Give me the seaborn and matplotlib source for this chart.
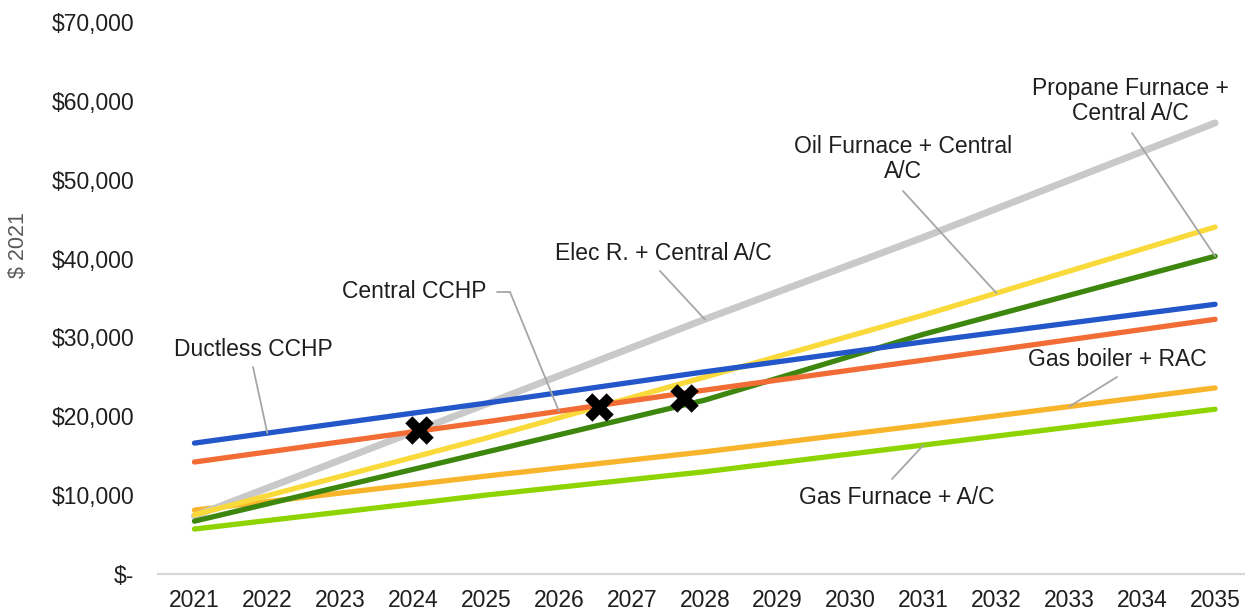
import matplotlib
matplotlib.use("Agg")
import matplotlib.pyplot as plt
import numpy as np
import pandas as pd
import seaborn as sns
from matplotlib.ticker import FuncFormatter

# values at these years (lines drawn straight between them)
READ_YEARS = [2021, 2025, 2028, 2031, 2035]
ductless_cchp = [16600, 21670, 25640, 29440, 34200]
central_cchp = [14200, 19300, 23320, 27120, 32300]
elec_r_central_ac = [7350, 21550, 32300, 42700, 57200]
oil_furnace_central_ac = [7500, 17240, 24970, 32830, 44000]
propane_furnace_central_ac = [6700, 15460, 22050, 30400, 40300]
gas_boiler_rac = [8100, 12420, 15500, 18880, 23600]
gas_furnace_ac = [5700, 10010, 12970, 16350, 20900]

# crossover markers
cross_years = [2024.08, 2026.55, 2027.72]
cross_costs = [18250, 21170, 22350]

YEAR_TICKS = list(range(2021, 2036))
Y_TICKS = [0, 10000, 20000, 30000, 40000, 50000, 60000, 70000]

SERIES = {
    "Gas boiler + RAC": gas_boiler_rac,
    "Gas Furnace + A/C": gas_furnace_ac,
    "Elec R. + Central A/C": elec_r_central_ac,
    "Oil Furnace + Central A/C": oil_furnace_central_ac,
    "Propane Furnace + Central A/C": propane_furnace_central_ac,
    "Ductless CCHP": ductless_cchp,
    "Central CCHP": central_cchp,
}
COLORS = {
    "Ductless CCHP": "#2356C9",
    "Central CCHP": "#F26C36",
    "Elec R. + Central A/C": "#C9C9C9",
    "Oil Furnace + Central A/C": "#F9DA3A",
    "Propane Furnace + Central A/C": "#3E870F",
    "Gas boiler + RAC": "#F8B42A",
    "Gas Furnace + A/C": "#8ED400",
}
WIDTHS = {"Elec R. + Central A/C": 5.0}
LEADER = "#A6A6A6"
TEXT = "#1f1f1f"
W, H = 1245, 613

sns.set_style("white")
plt.rcParams["font.family"] = ["Liberation Sans", "DejaVu Sans"]

df = pd.concat(
    [pd.DataFrame({"year": READ_YEARS, "cost": vals, "system": name}) for name, vals in SERIES.items()],
    ignore_index=True,
)

fig = plt.figure(figsize=(W / 100, H / 100), dpi=100)
ax = fig.add_axes([158 / W, 39 / H, 1087 / W, 552 / H])

for z, (name, grp) in enumerate(df.groupby("system", sort=False)):
    sns.lineplot(data=grp, x="year", y="cost", color=COLORS[name],
                 linewidth=WIDTHS.get(name, 3.8), ax=ax, zorder=2 + z,
                 solid_capstyle="round", legend=False)

sns.scatterplot(x=cross_years, y=cross_costs, marker="X", s=420, color="black",
                linewidth=0, ax=ax, zorder=20)

ax.set_xlim(2020.5, 2035.41)
ax.set_ylim(0, 70000)
ax.set_xticks(YEAR_TICKS)
ax.set_xticklabels([str(y) for y in YEAR_TICKS])
ax.set_yticks(Y_TICKS)
ax.yaxis.set_major_formatter(FuncFormatter(lambda v, _: "$-" if v == 0 else f"${v:,.0f}"))
ax.tick_params(axis="both", length=0, labelsize=16.5, labelcolor=TEXT)
ax.tick_params(axis="x", pad=11)
ax.tick_params(axis="y", pad=17)
ax.set_xlabel("")
ax.set_ylabel("")
for side in ("top", "right", "left"):
    ax.spines[side].set_visible(False)
ax.spines["bottom"].set_color("#D9D9D9")
ax.spines["bottom"].set_linewidth(1.6)
ax.grid(False)

fig.text(18 / W, 1 - 245 / H, "$ 2021", rotation=90, ha="center", va="center",
         fontsize=15.5, color="#595959")


def on_line(name, year):
    return float(np.interp(year, READ_YEARS, SERIES[name]))


def leader(start_px, name, year):
    ax.annotate("", xy=(year, on_line(name, year)), xycoords="data",
                xytext=(start_px[0], H - start_px[1]), textcoords="figure pixels",
                arrowprops=dict(arrowstyle="-", color=LEADER, lw=1.3,
                                shrinkA=0, shrinkB=0), zorder=15)


def label(x, y, s, ha="center"):
    fig.text(x / W, 1 - y / H, s, ha=ha, va="center", fontsize=16.5,
             color=TEXT, linespacing=1.15)


label(253, 350, "Ductless CCHP")
leader((253, 367), "Ductless CCHP", 2022)

label(487, 292, "Central CCHP", ha="right")
ax.annotate("", xy=(510, H - 292), xycoords="figure pixels",
            xytext=(497, H - 292), textcoords="figure pixels",
            arrowprops=dict(arrowstyle="-", color=LEADER, lw=1.3, shrinkA=0, shrinkB=0))
leader((510, 292), "Central CCHP", 2026)

label(663, 253, "Elec R. + Central A/C")
leader((660, 271), "Elec R. + Central A/C", 2028)

label(903, 159, "Oil Furnace + Central\nA/C")
leader((903, 191), "Oil Furnace + Central A/C", 2032)

label(1130, 101, "Propane Furnace +\nCentral A/C")
leader((1132, 133), "Propane Furnace + Central A/C", 2035)

label(1117, 360, "Gas boiler + RAC")
leader((1117, 377), "Gas boiler + RAC", 2033)

label(897, 497, "Gas Furnace + A/C")
leader((892, 479), "Gas Furnace + A/C", 2031)

fig.savefig("out.png", dpi=100)
